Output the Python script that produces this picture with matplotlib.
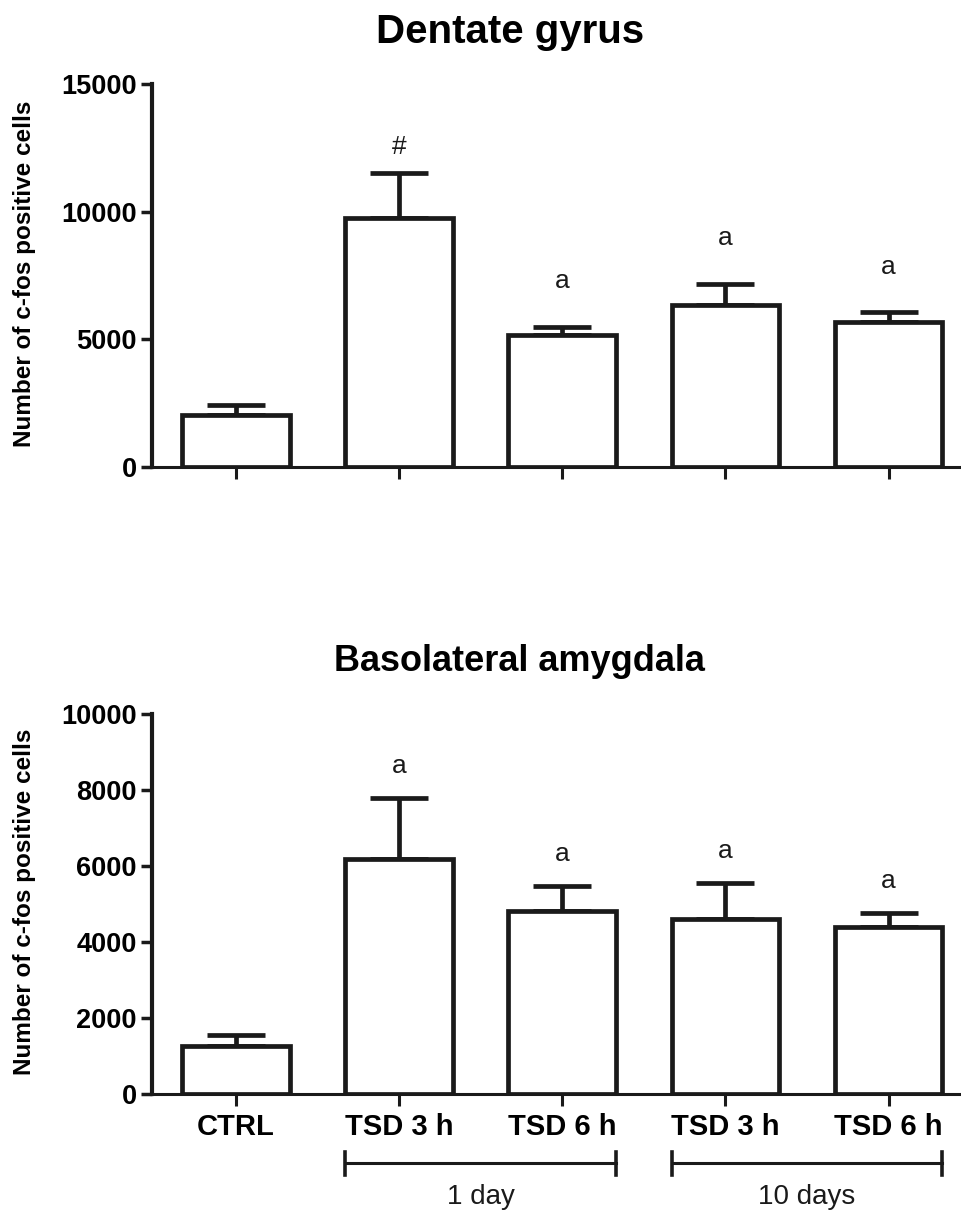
import numpy as np
import matplotlib
matplotlib.use("Agg")
import matplotlib.pyplot as plt
import matplotlib.transforms as mtransforms

plt.rcParams['font.family'] = ['Liberation Sans', 'DejaVu Sans']

groups = ['CTRL', 'TSD 3 h', 'TSD 6 h', 'TSD 3 h', 'TSD 6 h']

# dentate gyrus: mean and SEM
dg_mean = [2030, 9750, 5170, 6350, 5670]
dg_sem = [370, 1770, 300, 810, 380]
dg_marks = ['', '#', 'a', 'a', 'a']

# basolateral amygdala
bla_mean = [1260, 6200, 4820, 4600, 4390]
bla_sem = [290, 1600, 650, 970, 380]
bla_marks = ['', 'a', 'a', 'a', 'a']

periods = ['1 day', '10 days']
period_groups = [(1, 2), (3, 4)]

W = 0.66
LW = 3.4
INK = '#1a1a1a'


def draw_panel(ax, means, sems, marks, ymax, step, mark_offsets):
    x = np.arange(len(means))
    ax.bar(x, means, width=W, color='white', edgecolor=INK, linewidth=LW, zorder=3)
    ax.errorbar(x, means, yerr=[np.zeros(len(sems)), sems], fmt='none', ecolor=INK,
                elinewidth=LW, capsize=21, capthick=LW, zorder=2)
    for xi, m, s, t in zip(x, means, sems, marks):
        if t:
            off = mark_offsets[1] if t == '#' else mark_offsets[0]
            ax.annotate(t, (xi, m + s), xytext=(0, off), textcoords='offset points',
                        ha='center', va='baseline', fontsize=19, color=INK)
    ax.set_xlim(-0.515, 4.45)
    ax.set_ylim(0, ymax)
    ax.set_yticks(np.arange(0, ymax + 1, step))
    for s in ['top', 'right']:
        ax.spines[s].set_visible(False)
    ax.spines['left'].set_linewidth(3.0)
    ax.spines['bottom'].set_linewidth(2.2)
    ax.spines['left'].set_color(INK)
    ax.spines['bottom'].set_color(INK)
    ax.tick_params(axis='y', length=8, width=2.5, pad=3, labelsize=19.5, color=INK)
    ax.tick_params(axis='x', length=8.5, width=2.2, pad=5, labelsize=21, color=INK)
    for lab in ax.get_yticklabels():
        lab.set_fontweight('bold')
    ax.set_ylabel('Number of c-fos positive cells', fontsize=17.5, fontweight='bold')
    ax.yaxis.set_label_coords(-0.143, 0.505)
    ax.set_xticks(x)


fig = plt.figure(figsize=(9.62, 12.14), dpi=100)

ax1 = fig.add_axes([0.158, 0.6156, 0.842, 0.315])
draw_panel(ax1, dg_mean, dg_sem, dg_marks, 15000, 5000, (28, 14))
ax1.set_xticklabels([])
fig.text(0.53, 0.974, 'Dentate gyrus', ha='center', va='center', fontsize=29, fontweight='bold')

ax2 = fig.add_axes([0.158, 0.0988, 0.842, 0.3128])
draw_panel(ax2, bla_mean, bla_sem, bla_marks, 10000, 2000, (18, 18))
ax2.set_xticklabels(groups, fontweight='bold')
fig.text(0.54, 0.455, 'Basolateral amygdala', ha='center', va='center', fontsize=26, fontweight='bold')

# time brackets under the x labels
trans = mtransforms.blended_transform_factory(ax2.transData, ax2.transAxes)
for name, (a, b) in zip(periods, period_groups):
    x0, x1 = a - W / 2, b + W / 2
    ax2.plot([x0, x1], [-0.182, -0.182], color=INK, lw=2.2, transform=trans, clip_on=False)
    for xe in (x0, x1):
        ax2.plot([xe, xe], [-0.212, -0.152], color=INK, lw=2.6, transform=trans, clip_on=False)
    ax2.text((x0 + x1) / 2, -0.27, name, ha='center', va='center', fontsize=20,
             color=INK, transform=trans)

plt.savefig('out.png', dpi=100)
